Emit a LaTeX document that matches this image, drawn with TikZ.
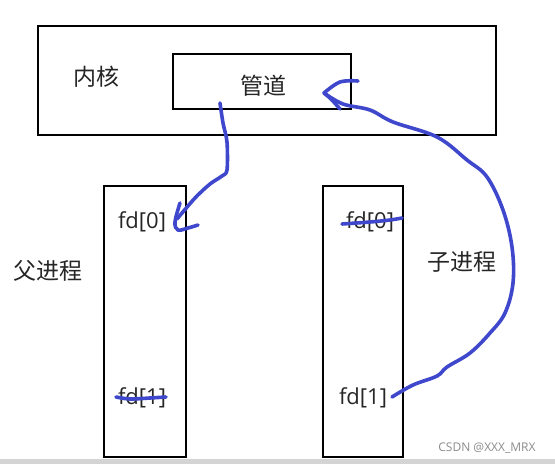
\documentclass[tikz,border=0pt]{standalone}
\usepackage{fontspec}
\setmainfont{Noto Sans CJK SC}
\newfontfamily\latinfont{Open Sans}
\begin{document}
\begin{tikzpicture}[x=1pt,y=-1pt,
  box/.style={draw=black,line width=1.8pt},
  lbl/.style={font=\fontsize{23}{26}\selectfont,text=black!85},
  fdl/.style={font=\latinfont\fontsize{22}{26}\selectfont,text=black!85},
  ink/.style={draw=inkblue,line width=3.6pt,line cap=round,line join=round},
]
\definecolor{inkblue}{HTML}{3F48CC}
\useasboundingbox (0,0) rectangle (555,464);
\fill[white] (0,0) rectangle (555,464);
\fill[black!17] (0,459) rectangle (555,464);
% boxes
\draw[box] (38,26) rectangle (496,135);
\draw[box] (173,54) rectangle (351,109);
\draw[box] (104,186) rectangle (186,457);
\draw[box] (323,186) rectangle (403,457);
% labels
\node[lbl] (kernel) at (96,77) {内核};
\node[lbl] (pipe) at (263,86) {管道};
\node[fdl] (lfd0) at (142,222) {fd[0]};
\node[fdl] (lfd1) at (142,398) {fd[1]};
\node[fdl] (rfd0) at (370,222) {fd[0]};
\node[fdl] (rfd1) at (363,398) {fd[1]};
\node[lbl] (parent) at (48,271) {父进程};
\node[lbl] (child) at (462,262) {子进程};
\node[font=\latinfont\fontsize{12}{14}\selectfont,text=black!45] (wm) at (487,448) {CSDN @XXX\_MRX};
% strikes
\coordinate (s1a) at (342,224); \coordinate (s1b) at (402,218);
\coordinate (s2a) at (116,397); \coordinate (s2b) at (166,397);
\draw[ink] plot[smooth] coordinates {(s1a) (370,222) (390,220) (s1b)};
\draw[ink] plot[smooth] coordinates {(s2a) (130,399) (150,398) (s2b)};
% curve pipe -> parent fd[0]
\coordinate (p1) at (220,103);
\coordinate (p2) at (177,219);
\draw[ink] plot[smooth,tension=0.5] coordinates {(p1) (223,123) (227,142) (227,170) (222,176) (210,184) (195,198) (p2)};
\draw[ink] plot[smooth,tension=0.6] coordinates {(180,203) (175,222) (178,230) (188,228) (198,225)};
% curve child fd[1] -> pipe
\coordinate (c1) at (392,397);
\coordinate (c2) at (324,93);
\draw[ink] plot[smooth,tension=0.6] coordinates {(c1) (413,385) (437,376) (447,367) (470,353) (490,333) (505,313) (513,283) (512,247) (503,210) (487,177) (467,160) (437,137) (393,122) (370,110) (343,104) (c2)};
\draw[ink] plot[smooth,tension=0.6] coordinates {(358,81) (340,82) (c2)};
\draw[ink] plot[smooth,tension=0.6] coordinates {(c2) (331,99) (340,109)};
\end{tikzpicture}
\end{document}
